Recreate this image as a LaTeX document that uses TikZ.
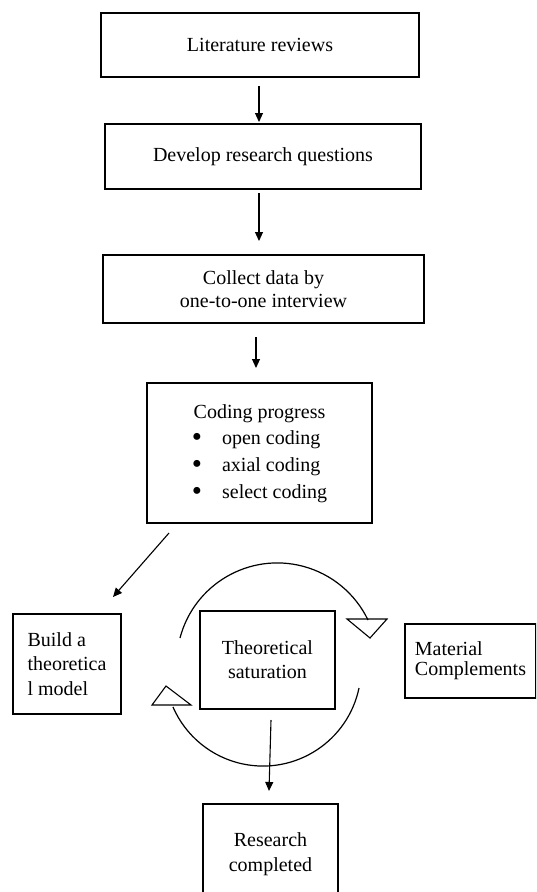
\documentclass[tikz,border=0pt]{standalone}
\usepackage{fontspec}
\setmainfont{Liberation Serif}
\usetikzlibrary{arrows.meta}
\newcommand{\bigdot}{\raisebox{-1.8pt}{\fontsize{29}{29}\selectfont •}}
\begin{document}
\begin{tikzpicture}[x=1pt,y=1pt,
  box/.style={draw, line width=1.2pt, rectangle, inner sep=0pt, align=center},
  arr/.style={-{Triangle[length=9pt,width=8pt]}, line width=1.1pt},
  cyc/.style={line width=1.2pt},
  tri/.style={line width=1.1pt, line join=miter}]
\useasboundingbox (0,0) rectangle (536,-892);
\clip (0,0) rectangle (536,-892);
\fill[white] (0,0) rectangle (536,-892);

\node[box, minimum width=318pt, minimum height=64pt, font=\fontsize{20}{24}\selectfont] (lit) at (260,-45) {Literature reviews};
\node[box, minimum width=316pt, minimum height=65pt, font=\fontsize{20}{24}\selectfont] (dev) at (263,-156.5) {Develop research questions};
\node[box, minimum width=321pt, minimum height=68pt, font=\fontsize{20}{23}\selectfont] (col) at (263.5,-289) {Collect data by\\one-to-one interview};
\node[box, minimum width=225pt, minimum height=140pt, font=\fontsize{20}{26.7}\selectfont] (cod) at (259.5,-453)
  {\begin{tabular}{@{}l@{\hspace{20pt}}l@{}}\multicolumn{2}{@{}c@{}}{Coding progress}\\ \bigdot&open coding\\ \bigdot&axial coding\\ \bigdot&select coding\end{tabular}};
\node[box, minimum width=108pt, minimum height=100pt, align=left, font=\fontsize{20}{24.5}\selectfont] (bld) at (67,-664) {Build a\\theoretica\\l model};
\node[box, minimum width=135pt, minimum height=98pt, font=\fontsize{20}{24}\selectfont] (the) at (267.5,-660) {Theoretical\\saturation};
\node[box, minimum width=131pt, minimum height=74pt, align=left, font=\fontsize{20}{20}\selectfont] (mat) at (470.5,-661) {Material\\Complements};
\node[box, minimum width=135pt, minimum height=100pt, font=\fontsize{20}{25}\selectfont] (res) at (270.5,-854) {Research\\completed};

% connectors
\coordinate (a1s) at (259,-86);
\coordinate (a1e) at (259,-122);
\coordinate (a2s) at (259,-193);
\coordinate (a2e) at (259,-241);
\coordinate (a3s) at (256,-337);
\coordinate (a3e) at (256,-368);
\coordinate (a4s) at (169,-533);
\coordinate (a4e) at (113,-597);
\coordinate (a5s) at (271,-720);
\coordinate (a5e) at (269,-791);
\draw[arr] (a1s) -- (a1e);
\draw[arr] (a2s) -- (a2e);
\draw[arr] (a3s) -- (a3e);
\draw[arr] (a4s) -- (a4e);

% cycle arcs
\coordinate (tarcs) at (180,-638);
\coordinate (barcs) at (359,-688);
\draw[cyc] (tarcs) arc[start angle=165.3, end angle=25.6, radius=100.6];
\draw[cyc] (barcs) arc[start angle=-11.8, end angle=-156.6, radius=98.1];
\draw[tri] (347,-619) -- (387,-619) -- (370,-638) -- cycle;
\draw[tri] (152,-705) -- (191,-705) -- (166,-686) -- cycle;

\draw[arr] (a5s) -- (a5e);
\end{tikzpicture}
\end{document}
